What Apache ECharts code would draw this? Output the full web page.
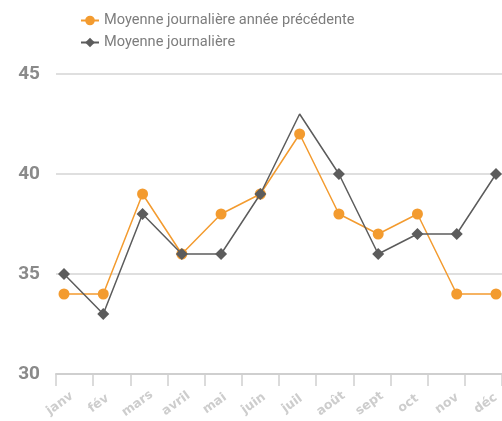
<!DOCTYPE html>
<html>
<head>
<meta charset="utf-8">
<script src="https://cdn.jsdelivr.net/npm/echarts@6/dist/echarts.min.js"></script>
<style>
  html, body { margin: 0; padding: 0; background: #fff; }
  #chart { width: 502px; height: 421px; }
</style>
</head>
<body>
<div id="chart"></div>
<script>
// Months shown along the bottom axis
const months = ['janv', 'fév', 'mars', 'avril', 'mai', 'juin', 'juil', 'août', 'sept', 'oct', 'nov', 'déc'];
// Daily averages, previous year and current year
const previousYear = [34, 34, 39, 36, 38, 39, 42, 38, 37, 38, 34, 34];
const currentYear = [35, 33, 38, 36, 36, 39, 43, 40, 36, 37, 37, 40];
// Vertical scale
const yTicks = [30, 35, 40, 45];
// Months whose point is drawn without a marker
const currentYearNoMarker = ['juil'];

const ORANGE = '#F39B2F';
const DARK = '#5C5C5C';

const chart = echarts.init(document.getElementById('chart'), null, { renderer: 'canvas' });

chart.setOption({
  animation: false,
  backgroundColor: '#fff',
  legend: {
    orient: 'vertical',
    left: 75,
    top: 8,
    itemWidth: 18,
    itemHeight: 12,
    itemGap: 7,
    textStyle: { color: '#7d7d7d', fontSize: 14.6, fontFamily: 'Roboto' },
    data: ['Moyenne journalière année précédente', 'Moyenne journalière']
  },
  grid: [
    // frame carrying the value scale, gridlines and the tick row
    { left: 56, width: 460, top: 74, bottom: 47, containLabel: false },
    // frame the series are plotted in
    { left: 64, right: 6, top: 74, bottom: 47, containLabel: false },
    // frame holding the month names, slightly left of the points
    { left: 60, right: 10, top: 74, bottom: 47, containLabel: false }
  ],
  xAxis: [
    {
      gridIndex: 0,
      type: 'category',
      data: months,
      boundaryGap: true,
      axisLine: { show: true, lineStyle: { color: '#cfcfcf', width: 2 } },
      axisTick: { show: true, length: 12, lineStyle: { color: '#cfcfcf', width: 1.5 } },
      axisLabel: { show: false },
      splitLine: { show: false }
    },
    {
      gridIndex: 1,
      type: 'category',
      data: months,
      boundaryGap: false,
      axisLine: { show: false },
      axisTick: { show: false },
      axisLabel: { show: false },
      splitLine: { show: false }
    },
    {
      gridIndex: 2,
      type: 'category',
      data: months,
      boundaryGap: false,
      offset: 7,
      axisLine: { show: false },
      axisTick: { show: false },
      axisLabel: {
        rotate: 36,
        align: 'center',
        verticalAlign: 'middle',
        margin: 31,
        color: '#cdcdcd',
        fontSize: 12.5,
        fontWeight: 'bold',
        fontFamily: 'DejaVu Sans'
      },
      splitLine: { show: false }
    }
  ],
  yAxis: [
    {
      gridIndex: 0,
      type: 'value',
      min: yTicks[0],
      max: yTicks[yTicks.length - 1],
      interval: yTicks[1] - yTicks[0],
      axisLine: { show: false },
      axisTick: { show: false },
      axisLabel: {
        margin: 16,
        color: '#8a8a8a',
        fontSize: 19,
        fontWeight: 'bold',
        fontFamily: 'Roboto'
      },
      splitLine: { show: true, lineStyle: { color: '#d4d4d4', width: 1.5 } }
    },
    {
      gridIndex: 1,
      type: 'value',
      min: yTicks[0],
      max: yTicks[yTicks.length - 1],
      show: false
    },
    {
      gridIndex: 2,
      type: 'value',
      min: yTicks[0],
      max: yTicks[yTicks.length - 1],
      show: false
    }
  ],
  series: [
    {
      name: 'Moyenne journalière année précédente',
      type: 'line',
      xAxisIndex: 1,
      yAxisIndex: 1,
      data: previousYear,
      symbol: 'circle',
      symbolSize: 11,
      itemStyle: { color: ORANGE },
      lineStyle: { color: ORANGE, width: 1.5 },
      z: 2
    },
    {
      name: 'Moyenne journalière',
      type: 'line',
      xAxisIndex: 1,
      yAxisIndex: 1,
      data: currentYear.map((v, i) =>
        currentYearNoMarker.includes(months[i]) ? { value: v, symbol: 'none' } : v
      ),
      symbol: 'diamond',
      symbolSize: 12,
      itemStyle: { color: DARK },
      lineStyle: { color: DARK, width: 1.5 },
      z: 3
    }
  ]
});
</script>
</body>
</html>
